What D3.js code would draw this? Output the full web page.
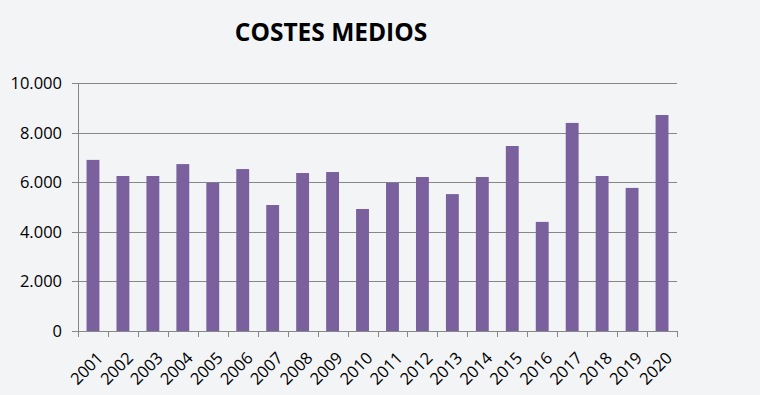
<!DOCTYPE html>
<html>
<head>
<meta charset="utf-8">
<script src="https://cdn.jsdelivr.net/npm/d3@7"></script>
<style>
  body { margin: 0; background: #f3f4f6; }
  svg { display: block; font-family: "Open Sans", sans-serif; }
</style>
</head>
<body>
<div class="canvas"></div>
<script>
const years = ['2001', '2002', '2003', '2004', '2005', '2006', '2007', '2008', '2009', '2010',
    '2011', '2012', '2013', '2014', '2015', '2016', '2017', '2018', '2019', '2020']
const costes = [6900, 6250, 6250, 6730, 5980, 6530, 5080, 6370, 6410, 4920,
    5980, 6210, 5520, 6210, 7460, 4400, 8390, 6250, 5770, 8710]
const yTicks = [0, 2000, 4000, 6000, 8000, 10000]

const margin = { top: 83, right: 83, bottom: 64, left: 78 }
const width = 760, height = 395
const graphWidth = width - margin.left - margin.right
const graphHeight = height - margin.top - margin.bottom

const svg = d3.select('.canvas')
    .append('svg')
    .attr('width', width)
    .attr('height', height)

svg.append('rect')
    .attr('width', width)
    .attr('height', height)
    .attr('fill', '#f3f4f6')

svg.append('text')
    .attr('x', 331)
    .attr('y', 41)
    .attr('text-anchor', 'middle')
    .attr('font-size', 24.5)
    .attr('font-weight', 'bold')
    .attr('fill', '#000')
    .text('COSTES MEDIOS')

const graph = svg.append('g')
    .attr('transform', `translate(${margin.left}, ${margin.top})`)

const xScale = d3.scaleBand().domain(years).range([0, graphWidth]).paddingInner(0.57).paddingOuter(0.285)
const yScale = d3.scaleLinear().domain([0, 10000]).range([graphHeight, 0])

const fmt = d => d3.format(',')(d).replace(/,/g, '.')

// grid lines + y tick marks
graph.append('g')
    .selectAll('line')
    .data(yTicks)
    .enter()
    .append('line')
        .attr('x1', -6)
        .attr('x2', graphWidth)
        .attr('y1', d => Math.round(yScale(d)) + 0.5)
        .attr('y2', d => Math.round(yScale(d)) + 0.5)
        .attr('stroke', '#878787')
        .attr('stroke-width', 1)

graph.append('g')
    .selectAll('text')
    .data(yTicks)
    .enter()
    .append('text')
        .attr('x', -16)
        .attr('y', d => yScale(d))
        .attr('dy', '0.36em')
        .attr('text-anchor', 'end')
        .attr('font-size', 16.5)
        .attr('fill', '#000')
        .text(fmt)

// y axis line
graph.append('line')
    .attr('x1', 0.5).attr('x2', 0.5)
    .attr('y1', 0).attr('y2', graphHeight + 6)
    .attr('stroke', '#878787')

// bars
graph.selectAll('rect.bar')
    .data(costes)
    .enter()
    .append('rect')
        .attr('class', 'bar')
        .attr('x', (d, i) => xScale(years[i]))
        .attr('width', xScale.bandwidth())
        .attr('y', d => yScale(d))
        .attr('height', d => graphHeight - yScale(d))
        .attr('fill', '#7a619e')

// x axis
const step = xScale.step()
graph.append('g')
    .selectAll('line')
    .data(d3.range(years.length + 1))
    .enter()
    .append('line')
        .attr('x1', i => Math.round(i * step) + 0.5)
        .attr('x2', i => Math.round(i * step) + 0.5)
        .attr('y1', graphHeight)
        .attr('y2', graphHeight + 6)
        .attr('stroke', '#878787')

graph.append('line')
    .attr('x1', 0).attr('x2', graphWidth)
    .attr('y1', graphHeight + 0.5).attr('y2', graphHeight + 0.5)
    .attr('stroke', '#878787')

graph.append('g')
    .selectAll('text')
    .data(years)
    .enter()
    .append('text')
        .attr('transform', d => `translate(${xScale(d) + xScale.bandwidth() / 2 + 3}, ${graphHeight + 20}) rotate(-45)`)
        .attr('text-anchor', 'end')
        .attr('dy', '0.7em')
        .attr('font-size', 16.5)
        .attr('fill', '#000')
        .text(d => d)
</script>
</body>
</html>
